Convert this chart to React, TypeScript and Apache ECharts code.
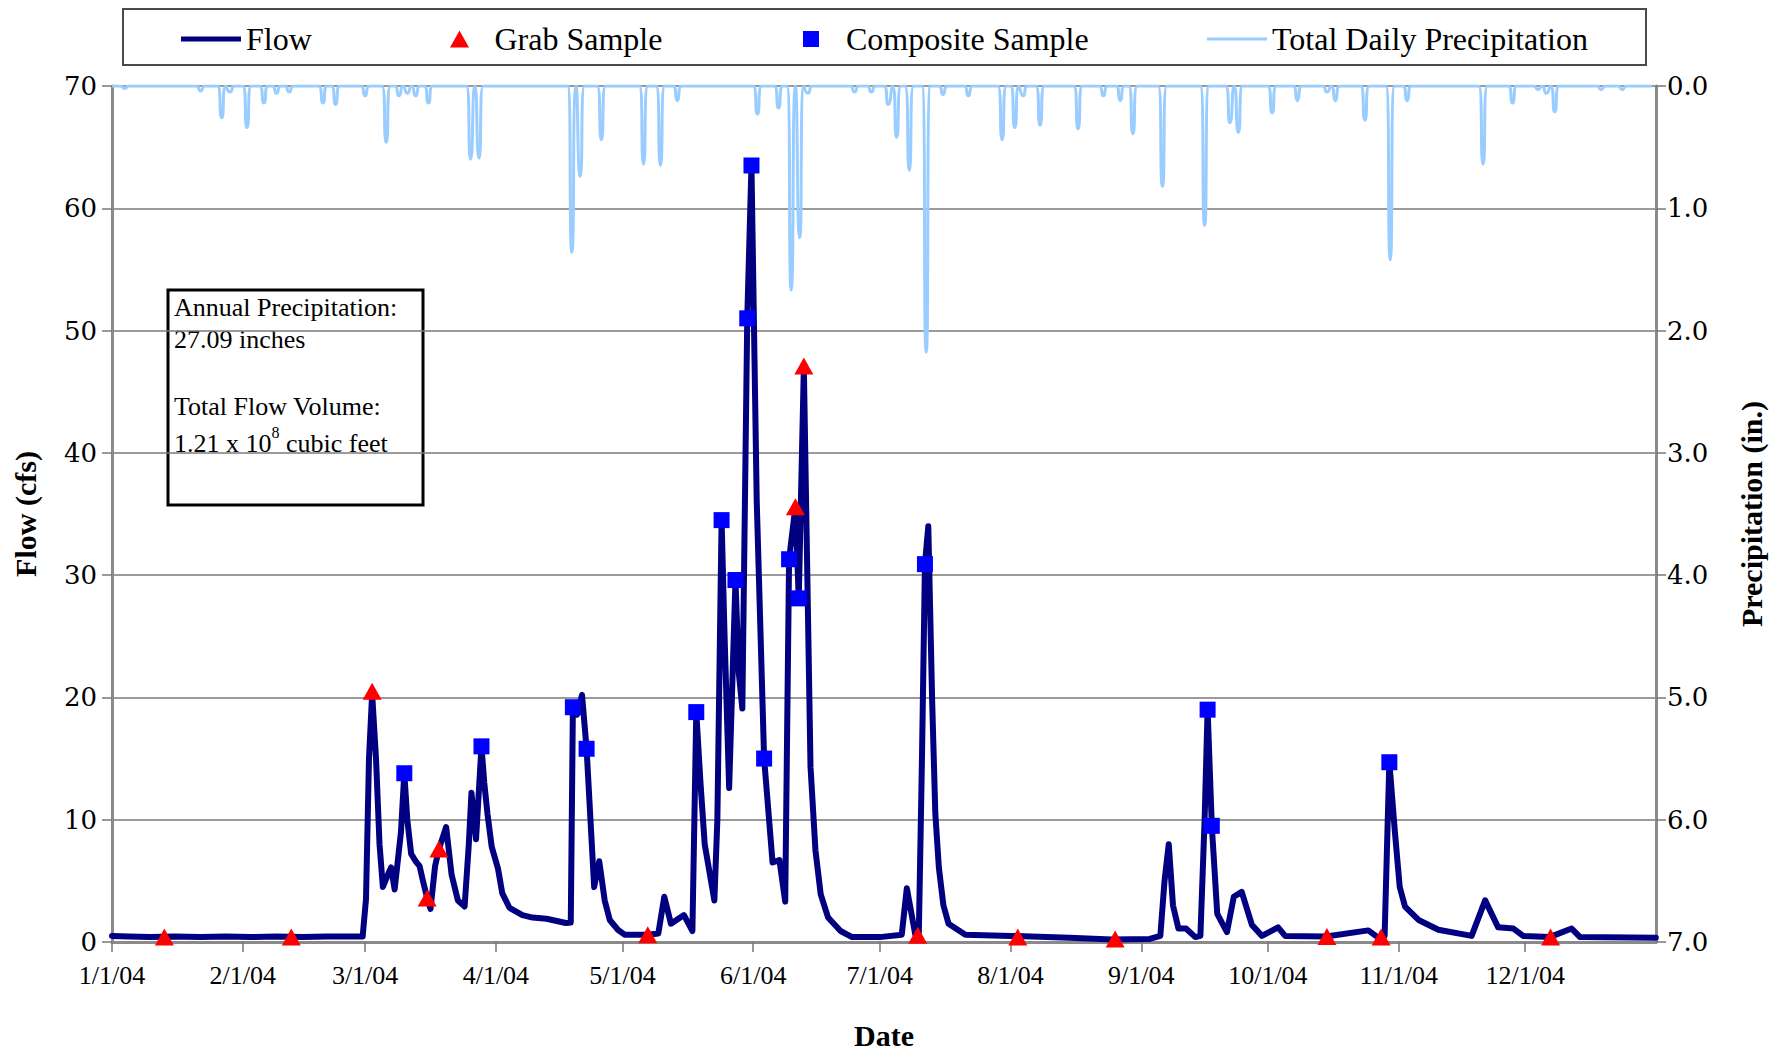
import React, { useEffect, useRef } from "react";
import * as echarts from "echarts";

// ---- Flow (cfs) ----
const FLOW_TIMES = [
  "2004-01-01 00:00", "2004-01-05 00:00", "2004-01-10 00:00", "2004-01-16 00:00", "2004-01-22 00:00", "2004-01-28 00:00",
  "2004-02-03 00:00", "2004-02-09 00:00", "2004-02-15 00:00", "2004-02-21 00:00", "2004-02-29 10:00",
  "2004-03-01 05:00", "2004-03-01 22:00", "2004-03-02 16:00", "2004-03-03 14:00", "2004-03-04 10:00", "2004-03-05 05:00",
  "2004-03-06 12:00", "2004-03-07 04:00", "2004-03-08 00:00", "2004-03-09 12:00", "2004-03-10 07:00", "2004-03-11 00:00",
  "2004-03-11 22:00", "2004-03-13 00:00", "2004-03-13 22:00", "2004-03-14 17:00", "2004-03-15 17:00", "2004-03-16 12:00",
  "2004-03-17 14:00", "2004-03-18 12:00", "2004-03-20 05:00", "2004-03-21 12:00", "2004-03-23 00:00", "2004-03-24 14:00",
  "2004-03-25 14:00", "2004-03-26 05:00", "2004-03-27 07:00", "2004-03-28 14:00", "2004-03-29 06:00", "2004-03-30 00:00",
  "2004-03-31 00:00",
  "2004-04-01 12:00", "2004-04-02 12:00", "2004-04-04 05:00", "2004-04-07 07:00", "2004-04-09 17:00", "2004-04-13 00:00",
  "2004-04-17 14:00", "2004-04-18 18:00", "2004-04-19 06:00", "2004-04-20 06:00", "2004-04-21 10:00", "2004-04-22 12:00",
  "2004-04-24 07:00", "2004-04-25 12:00", "2004-04-26 19:00", "2004-04-28 00:00", "2004-04-29 22:00",
  "2004-05-01 12:00", "2004-05-07 00:00", "2004-05-09 12:00", "2004-05-10 22:00", "2004-05-12 12:00", "2004-05-15 14:00",
  "2004-05-17 14:00", "2004-05-18 12:00", "2004-05-19 12:00", "2004-05-20 12:00", "2004-05-22 19:00", "2004-05-23 12:00",
  "2004-05-24 12:00", "2004-05-25 05:00", "2004-05-26 07:00", "2004-05-27 19:00", "2004-05-28 14:00", "2004-05-29 10:00",
  "2004-05-30 14:00", "2004-05-31 14:00",
  "2004-06-01 20:00", "2004-06-03 14:00", "2004-06-05 14:00", "2004-06-07 05:00", "2004-06-08 14:00", "2004-06-09 12:00",
  "2004-06-11 00:00", "2004-06-11 19:00", "2004-06-13 00:00", "2004-06-14 14:00", "2004-06-15 18:00", "2004-06-17 00:00",
  "2004-06-18 18:00", "2004-06-21 17:00", "2004-06-24 10:00",
  "2004-07-01 00:00", "2004-07-06 05:00", "2004-07-07 10:00", "2004-07-09 10:00", "2004-07-10 06:00", "2004-07-11 00:00",
  "2004-07-11 17:00", "2004-07-12 12:00", "2004-07-13 10:00", "2004-07-14 04:00", "2004-07-15 00:00", "2004-07-16 02:00",
  "2004-07-17 07:00", "2004-07-21 07:00",
  "2004-08-01 00:00", "2004-08-15 00:00", "2004-08-25 00:00",
  "2004-09-03 00:00", "2004-09-05 12:00", "2004-09-06 12:00", "2004-09-07 12:00", "2004-09-08 12:00", "2004-09-09 19:00",
  "2004-09-11 14:00", "2004-09-13 19:00", "2004-09-15 00:00", "2004-09-16 00:00", "2004-09-16 17:00", "2004-09-17 17:00",
  "2004-09-19 00:00", "2004-09-21 07:00", "2004-09-22 22:00", "2004-09-24 19:00", "2004-09-27 05:00", "2004-09-29 14:00",
  "2004-10-03 10:00", "2004-10-05 02:00", "2004-10-14 19:00", "2004-10-24 19:00", "2004-10-27 00:00", "2004-10-28 16:00",
  "2004-10-29 08:00", "2004-10-29 19:00", "2004-10-31 02:00",
  "2004-11-01 06:00", "2004-11-02 12:00", "2004-11-05 17:00", "2004-11-10 10:00", "2004-11-18 07:00", "2004-11-21 12:00",
  "2004-11-24 14:00", "2004-11-28 05:00", "2004-11-30 12:00",
  "2004-12-06 19:00", "2004-12-12 00:00", "2004-12-14 00:00", "2004-12-31 23:00",
];
const FLOW_CFS = [
  0.5, 0.45, 0.4, 0.45, 0.4, 0.45,
  0.4, 0.45, 0.4, 0.45, 0.45,
  3.5, 15, 20.3, 15, 8, 4.5,
  5.6, 6.1, 4.3, 9, 13.8, 10,
  7.2, 6.6, 6.2, 5.0, 3.6, 2.7,
  6.2, 7.6, 9.4, 5.5, 3.4, 2.9,
  8, 12.2, 8.4, 16.0, 13, 10.5,
  7.8,
  6.0, 4.0, 2.8, 2.2, 2.0, 1.9,
  1.55, 1.6, 19.2, 18.6, 20.2, 15.8,
  4.5, 6.6, 3.4, 1.8, 1.0,
  0.6, 0.6, 0.7, 3.7, 1.5, 2.2,
  0.9, 18.8, 13, 8, 3.4, 10,
  34.5, 25, 12.6, 29.6, 22, 19.1,
  51.0, 63.5,
  36, 15.0, 6.5, 6.7, 3.3, 31.3,
  35.6, 28.1, 47.0, 14.3, 7.5, 3.9,
  2.0, 0.9, 0.4,
  0.4, 0.6, 4.4, 0.6, 0.6, 15,
  30.9, 34.0, 19.7, 10.5, 6.1, 3.0,
  1.5, 0.6,
  0.5, 0.35, 0.2,
  0.25, 0.5, 5, 8.0, 3.0, 1.1,
  1.1, 0.4, 0.5, 10, 19.0, 9.5,
  2.3, 0.8, 3.7, 4.1, 1.4, 0.5,
  1.2, 0.5, 0.45, 0.95, 0.4, 0.5,
  9, 14.7, 9.1,
  4.5, 2.9, 1.8, 1.0, 0.5, 3.4,
  1.2, 1.1, 0.5,
  0.4, 1.1, 0.4, 0.35,
];

// ---- Grab samples ----
const GRAB_TIMES = [
  "2004-01-13 10:00", "2004-02-12 12:00", "2004-03-02 16:00", "2004-03-15 17:00", "2004-03-18 12:00",
  "2004-05-07 00:00", "2004-06-11 00:00", "2004-06-13 00:00", "2004-07-10 00:00", "2004-08-02 17:00",
  "2004-08-25 19:00", "2004-10-15 00:00", "2004-10-27 20:00", "2004-12-07 00:00",
];
const GRAB_CFS = [0.4, 0.4, 20.5, 3.6, 7.6, 0.6, 35.6, 47.1, 0.55, 0.4, 0.25, 0.45, 0.4, 0.4];

// ---- Composite samples ----
const COMP_TIMES = [
  "2004-03-10 07:00", "2004-03-28 14:00", "2004-04-19 06:00", "2004-04-22 12:00", "2004-05-18 12:00",
  "2004-05-24 12:00", "2004-05-27 19:00", "2004-05-30 14:00", "2004-05-31 14:00", "2004-06-03 14:00",
  "2004-06-09 12:00", "2004-06-11 19:00", "2004-07-11 17:00", "2004-09-16 17:00", "2004-09-17 17:00",
  "2004-10-29 19:00",
];
const COMP_CFS = [13.8, 16.0, 19.2, 15.8, 18.8, 34.5, 29.6, 51.0, 63.5, 15.0, 31.3, 28.1, 30.9, 19.0, 9.5, 14.7];

// ---- Total daily precipitation (in.), days with rain; all other days are 0 ----
const PRECIP_DATES = [
  "2004-01-04", "2004-01-22", "2004-01-27", "2004-01-29", "2004-02-02", "2004-02-06", "2004-02-09", "2004-02-12",
  "2004-02-20", "2004-02-23", "2004-03-01", "2004-03-06", "2004-03-09", "2004-03-11", "2004-03-13", "2004-03-16",
  "2004-03-26", "2004-03-28", "2004-04-19", "2004-04-21", "2004-04-26", "2004-05-06", "2004-05-10", "2004-05-14",
  "2004-06-02", "2004-06-07", "2004-06-10", "2004-06-12", "2004-06-14", "2004-06-25", "2004-06-29", "2004-07-03",
  "2004-07-05", "2004-07-08", "2004-07-12", "2004-07-16", "2004-07-22", "2004-07-30", "2004-08-02", "2004-08-04",
  "2004-08-08", "2004-08-17", "2004-08-23", "2004-08-27", "2004-08-30", "2004-09-06", "2004-09-16", "2004-09-22",
  "2004-09-24", "2004-10-02", "2004-10-08", "2004-10-15", "2004-10-17", "2004-10-24", "2004-10-30", "2004-11-03",
  "2004-11-21", "2004-11-28", "2004-12-04", "2004-12-06", "2004-12-08", "2004-12-19", "2004-12-24",
];
const PRECIP_IN = [
  0.02, 0.04, 0.26, 0.05, 0.34, 0.14, 0.06, 0.05,
  0.14, 0.15, 0.08, 0.46, 0.08, 0.06, 0.08, 0.14,
  0.6, 0.59, 1.36, 0.74, 0.44, 0.64, 0.65, 0.12,
  0.23, 0.18, 1.67, 1.24, 0.06, 0.05, 0.05, 0.15,
  0.42, 0.69, 2.18, 0.07, 0.08, 0.44, 0.34, 0.08,
  0.32, 0.35, 0.08, 0.12, 0.39, 0.82, 1.14, 0.3,
  0.38, 0.22, 0.12, 0.05, 0.12, 0.28, 1.42, 0.12,
  0.64, 0.14, 0.03, 0.06, 0.21, 0.03, 0.03,
];

const FLOW_TICKS = { min: 0, max: 70, interval: 10 };
const PRECIP_TICKS = { min: 0, max: 7, interval: 1 };

const SERIF = "Liberation Serif";

export default function App() {
  const ref = useRef<HTMLDivElement>(null);

  useEffect(() => {
    const el = ref.current;
    if (!el) return;
    const chart = echarts.init(el, null, { renderer: "svg" });

    const pad = (n: number) => String(n).padStart(2, "0");
    const precipMap = new Map<string, number>();
    PRECIP_DATES.forEach((d, i) => precipMap.set(d, PRECIP_IN[i]));
    const precipData: [string, number][] = [];
    for (let i = 0; i < 366; i++) {
      const dt = new Date(2004, 0, 1 + i);
      const key = `${dt.getFullYear()}-${pad(dt.getMonth() + 1)}-${pad(dt.getDate())}`;
      precipData.push([key, precipMap.get(key) ?? 0]);
    }
    const flowData = FLOW_TIMES.map((t, i) => [t, FLOW_CFS[i]]);
    const grabData = GRAB_TIMES.map((t, i) => [t, GRAB_CFS[i]]);
    const compData = COMP_TIMES.map((t, i) => [t, COMP_CFS[i]]);

    const legendText = { fontFamily: SERIF, fontSize: 32, color: "#000" };
    const legendTop = 23;

    const option: any = {
      animation: false,
      backgroundColor: "#ffffff",
      grid: { left: 112, right: 128, top: 86, bottom: 108, containLabel: false, outerBoundsMode: "none" },
      legend: [
        {
          left: 181, top: legendTop, padding: 0, itemWidth: 60, itemHeight: 5,
          data: [{ name: "Flow", icon: "rect" }], textStyle: legendText, selectedMode: false,
        },
        {
          left: 450, top: legendTop, padding: 0, itemWidth: 60, itemHeight: 17,
          data: [{ name: "Grab Sample", icon: "path://M0,17L9.5,0L19,17Z" }], textStyle: legendText, selectedMode: false,
        },
        {
          left: 803, top: legendTop, padding: 0, itemWidth: 60, itemHeight: 16,
          data: [{ name: "Composite Sample", icon: "path://M0,0H16V16H0Z" }], textStyle: legendText, selectedMode: false,
        },
        {
          left: 1207, top: legendTop, padding: 0, itemWidth: 60, itemHeight: 3,
          data: [{ name: "Total Daily Precipitation", icon: "rect" }], textStyle: legendText, selectedMode: false,
        },
      ],
      xAxis: {
        type: "time",
        min: new Date(2004, 0, 1).getTime(),
        max: new Date(2005, 0, 1).getTime(),
        splitNumber: 12,
        minInterval: 28 * 86400000,
        maxInterval: 31 * 86400000,
        name: "Date",
        nameLocation: "middle",
        nameGap: 78,
        nameTextStyle: { fontFamily: SERIF, fontSize: 30, fontWeight: "bold", color: "#000" },
        axisLine: { show: true, lineStyle: { color: "#8a8a8a", width: 3 } },
        axisTick: { show: true, length: 10, lineStyle: { color: "#777", width: 1.5 } },
        splitLine: { show: false },
        axisLabel: {
          fontFamily: SERIF, fontSize: 26, color: "#000", margin: 20, showMaxLabel: false,
          formatter: (v: number) => {
            const d = new Date(v);
            if (d.getFullYear() !== 2004) return "";
            return `${d.getMonth() + 1}/${d.getDate()}/04`;
          },
        },
      },
      yAxis: [
        {
          type: "value",
          position: "left",
          ...FLOW_TICKS,
          name: "Flow (cfs)",
          nameLocation: "middle",
          nameGap: 72,
          nameRotate: 90,
          nameTextStyle: { fontFamily: SERIF, fontSize: 30, fontWeight: "bold", color: "#000" },
          axisLine: { show: true, lineStyle: { color: "#8a8a8a", width: 3 } },
          axisTick: { show: true, length: 10, lineStyle: { color: "#777", width: 1.5 } },
          splitLine: { show: true, lineStyle: { color: "#7a7a7a", width: 1.5 } },
          axisLabel: { fontFamily: "DejaVu Serif", fontSize: 26, color: "#000", margin: 15 },
        },
        {
          type: "value",
          position: "right",
          inverse: true,
          ...PRECIP_TICKS,
          name: "Precipitation (in.)",
          nameLocation: "middle",
          nameGap: 80,
          nameRotate: 90,
          nameTextStyle: { fontFamily: SERIF, fontSize: 30, fontWeight: "bold", color: "#000" },
          axisLine: { show: true, lineStyle: { color: "#8a8a8a", width: 3 } },
          axisTick: { show: true, length: 10, lineStyle: { color: "#777", width: 1.5 } },
          splitLine: { show: false },
          axisLabel: {
            fontFamily: "DejaVu Serif", fontSize: 26, color: "#000", margin: 11,
            formatter: (v: number) => v.toFixed(1),
          },
        },
      ],
      series: [
        {
          name: "Total Daily Precipitation",
          type: "line",
          yAxisIndex: 1,
          data: precipData,
          smooth: 0.7,
          showSymbol: false,
          symbol: "none",
          color: "#99ccff",
          lineStyle: { color: "#99ccff", width: 3 },
          z: 1,
        },
        {
          name: "Flow",
          type: "line",
          yAxisIndex: 0,
          data: flowData,
          showSymbol: false,
          symbol: "none",
          color: "#000080",
          lineStyle: { color: "#000080", width: 6, join: "round", cap: "round" },
          z: 2,
        },
        {
          name: "Composite Sample",
          type: "scatter",
          yAxisIndex: 0,
          data: compData,
          symbol: "rect",
          symbolSize: 16,
          color: "#0000ff",
          itemStyle: { color: "#0000ff", opacity: 1 },
          z: 3,
        },
        {
          name: "Grab Sample",
          type: "scatter",
          yAxisIndex: 0,
          data: grabData,
          symbol: "triangle",
          symbolSize: [19, 17],
          color: "#ff0000",
          itemStyle: { color: "#ff0000", opacity: 1 },
          z: 4,
        },
      ],
      graphic: [
        {
          type: "rect",
          z: -10,
          shape: { x: 123, y: 9, width: 1523, height: 56 },
          style: { fill: "#ffffff", stroke: "#4a4a4a", lineWidth: 2 },
          silent: true,
        },
        {
          type: "group",
          z: 50,
          silent: true,
          children: [
            {
              type: "rect",
              shape: { x: 168, y: 290, width: 255, height: 215 },
              style: { fill: "#ffffff", stroke: "#000", lineWidth: 3 },
            },
            {
              type: "text", x: 174, y: 307,
              style: { text: "Annual Precipitation:", fontFamily: SERIF, fontSize: 26, fill: "#000", verticalAlign: "middle" },
            },
            {
              type: "text", x: 174, y: 339,
              style: { text: "27.09 inches", fontFamily: SERIF, fontSize: 26, fill: "#000", verticalAlign: "middle" },
            },
            {
              type: "text", x: 174, y: 406,
              style: { text: "Total Flow Volume:", fontFamily: SERIF, fontSize: 26, fill: "#000", verticalAlign: "middle" },
            },
            {
              type: "text", x: 174, y: 440,
              style: {
                text: "{a|1.21 x 10}{s|8}{a| cubic feet}",
                verticalAlign: "middle",
                rich: {
                  a: { fontFamily: SERIF, fontSize: 26, fill: "#000", lineHeight: 32, verticalAlign: "bottom" },
                  s: { fontFamily: SERIF, fontSize: 16, fill: "#000", lineHeight: 16, verticalAlign: "top" },
                },
              },
            },
          ],
        },
      ],
    };

    chart.setOption(option);
    return () => chart.dispose();
  }, []);

  return (
    <div
      ref={ref}
      style={{ position: "fixed", left: 0, top: 0, width: 1784, height: 1050, background: "#ffffff" }}
    />
  );
}
